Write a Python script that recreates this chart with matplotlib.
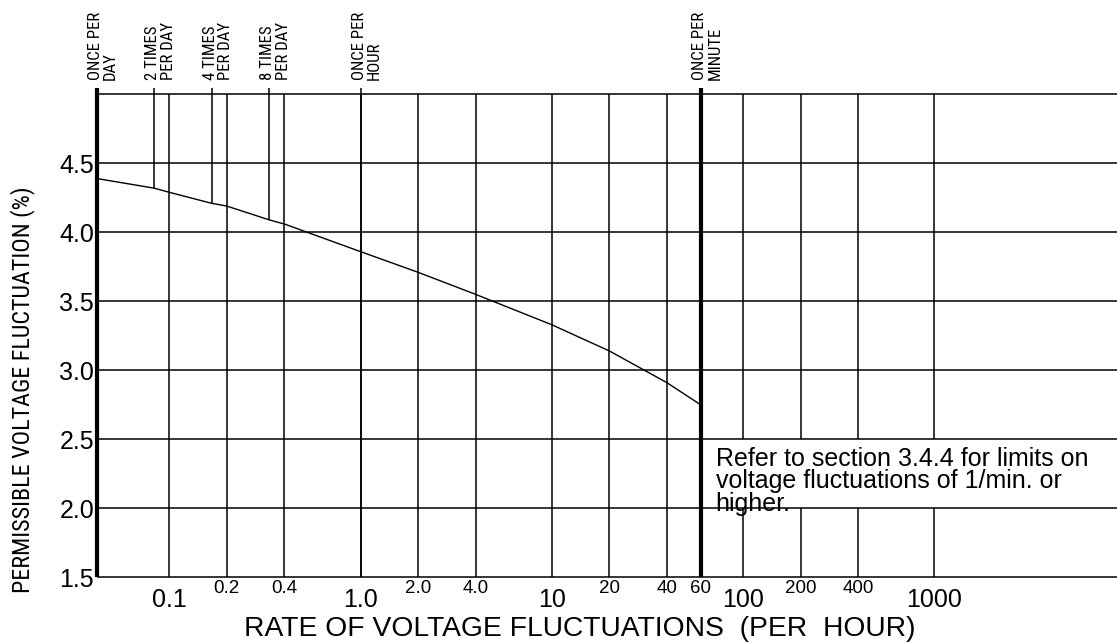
import matplotlib
matplotlib.use('Agg')
import matplotlib.pyplot as plt
from matplotlib.patches import Rectangle
from matplotlib import font_manager as fm
from matplotlib.font_manager import FontProperties

# ---------------- data ----------------
rate_per_hour = [1/24, 1/12, 0.1, 1/6, 0.2, 1/3, 0.4, 1.0, 2.0, 4.0, 10, 20, 40, 60]
permissible_pct = [4.39, 4.32, 4.29, 4.21, 4.19, 4.09, 4.06, 3.86, 3.71, 3.55, 3.33, 3.14, 2.91, 2.75]

major_x = [0.1, 1.0, 10, 100, 1000]
major_x_labels = ['0.1', '1.0', '10', '100', '1000']
minor_x = [0.2, 0.4, 2.0, 4.0, 20, 40, 60, 200, 400]
minor_x_labels = ['0.2', '0.4', '2.0', '4.0', '20', '40', '60', '200', '400']
grid_x = [0.1, 0.2, 0.4, 1.0, 2.0, 4.0, 10, 20, 40, 100, 200, 400, 1000]

y_ticks = [1.5, 2.0, 2.5, 3.0, 3.5, 4.0, 4.5]
y_tick_labels = ['1.5', '2.0', '2.5', '3.0', '3.5', '4.0', '4.5']
y_grid = [1.5, 2.0, 2.5, 3.0, 3.5, 4.0, 4.5, 5.0]

marker_rates = [1/24, 1/12, 1/6, 1/3, 1.0, 60]
marker_labels = ['ONCE PER\nDAY', '2 TIMES\nPER DAY', '4 TIMES\nPER DAY',
                 '8 TIMES\nPER DAY', 'ONCE PER\nHOUR', 'ONCE PER\nMINUTE']
marker_style = ['thick', 'partial', 'partial', 'partial', 'full', 'thick']

note_text = ('Refer to section 3.4.4 for limits on\n'
             'voltage fluctuations of 1/min. or\n'
             'higher.')
x_label = 'RATE OF VOLTAGE FLUCTUATIONS  (PER  HOUR)'
y_label = 'PERMISSIBLE VOLTAGE FLUCTUATION (%)'

# ---------------- fonts ----------------
plt.rcParams['font.family'] = ['Liberation Sans', 'DejaVu Sans']


def find_condensed():
    entries = fm.fontManager.ttflist
    normal_w = (400, 'normal', 'regular', 'book')
    for p in ['Liberation Sans Narrow', 'Arial Narrow', 'Roboto Condensed',
              'DejaVu Sans Condensed', 'Open Sans Condensed', 'Noto Sans Condensed']:
        for f in entries:
            if f.name == p and f.style == 'normal' and f.weight in normal_w:
                return f.fname
    for f in entries:
        if (f.stretch in ('condensed', 'semi-condensed', 'extra-condensed')
                and f.style == 'normal' and f.weight in normal_w
                and 'CJK' not in f.name and 'Mono' not in f.name):
            return f.fname
    return None


_cf = find_condensed()
narrow_fp = FontProperties(fname=_cf) if _cf else FontProperties(family='Liberation Sans')

# ---------------- figure ----------------
W, H = 1117, 642
fig = plt.figure(figsize=(W / 100, H / 100), dpi=100)
ax = fig.add_axes([96.5 / W, 1 - 577.3 / H, 1 - 96.5 / W, (577.3 - 94.3) / H])
ax.set_xscale('log')
XMIN, XMAX = 1 / 24, 9000
YMIN, YMAX = 1.5, 5.0
ax.set_xlim(XMIN, XMAX)
ax.set_ylim(YMIN, YMAX)
for s in ax.spines.values():
    s.set_visible(False)
ax.patch.set_visible(False)

LW = 1.1
for gx in grid_x:
    ax.plot([gx, gx], [YMIN, YMAX], color='black', lw=LW, zorder=1,
            solid_capstyle='butt')

ax.add_patch(Rectangle((60, 2.0), XMAX - 60, 0.5, facecolor='white',
                       edgecolor='none', zorder=1.5))

for gy in y_grid:
    ax.plot([XMIN, XMAX], [gy, gy], color='black', lw=LW, zorder=2,
            solid_capstyle='butt', clip_on=False)

ax.plot(rate_per_hour, permissible_pct, color='black', lw=1.0, zorder=3)

Y_TOP_EXT = 5.046
for r, st in zip(marker_rates, marker_style):
    if st == 'thick':
        ax.plot([r, r], [YMIN, Y_TOP_EXT], color='black', lw=3.0, zorder=4,
                clip_on=False, solid_capstyle='butt')
    elif st == 'full':
        ax.plot([r, r], [YMIN, Y_TOP_EXT], color='black', lw=LW, zorder=4,
                clip_on=False, solid_capstyle='butt')
    else:
        y0 = permissible_pct[rate_per_hour.index(r)]
        ax.plot([r, r], [y0, Y_TOP_EXT], color='black', lw=LW, zorder=4,
                clip_on=False, solid_capstyle='butt')

marker_texts = []
for r, lab in zip(marker_rates, marker_labels):
    t = ax.annotate(lab, xy=(r, 1 - 80 / H), xycoords=('data', 'figure fraction'),
                    xytext=(-9, 0), textcoords='offset pixels',
                    rotation=90, ha='left', va='bottom', multialignment='left',
                    fontproperties=narrow_fp.copy(), linespacing=1.05)
    t.set_fontsize(12)
    marker_texts.append(t)

ax.set_xticks(major_x, major_x_labels)
ax.set_xticks(minor_x, minor_x_labels, minor=True)
ax.set_yticks(y_ticks, y_tick_labels)
ax.tick_params(axis='x', which='major', length=0, pad=8.0, labelsize=18)
ax.tick_params(axis='x', which='minor', length=0, pad=2.2, labelsize=13.5)
ax.tick_params(axis='y', which='both', length=0, pad=1.8, labelsize=18)

fig.text(580 / W, 1 - 636 / H, x_label, ha='center', va='baseline', fontsize=20.3)
ylab = fig.text(23 / W, 1 - 390 / H, y_label, ha='center', va='center', rotation=90,
                fontproperties=narrow_fp.copy())
ylab.set_fontsize(17)

ax.annotate(note_text, xy=(60, 2.5), xycoords='data', xytext=(15, -8),
            textcoords='offset pixels', ha='left', va='top', fontsize=18,
            linespacing=0.9, zorder=5)

# fit the condensed texts to the lengths seen in the reference
fig.canvas.draw()
renderer = fig.canvas.get_renderer()
h = ylab.get_window_extent(renderer).height
ylab.set_fontsize(17 * 406.0 / h)
h0 = marker_texts[0].get_window_extent(renderer).height
fs = 12 * 68.0 / h0
for t in marker_texts:
    t.set_fontsize(fs)

fig.savefig('out.png', dpi=100)
